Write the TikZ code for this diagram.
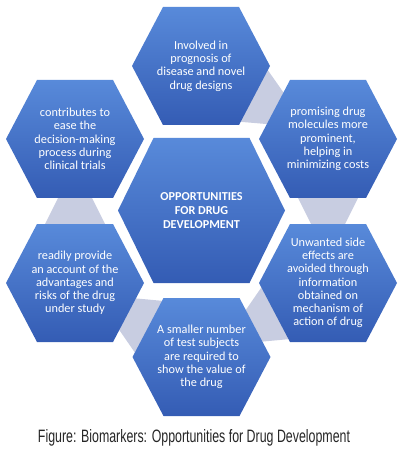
\documentclass[tikz,border=0pt]{standalone}
\usepackage{fontspec}
\usepackage{graphicx}
\setmainfont{Carlito}
\newfontfamily\captionfont{Liberation Sans}
\usetikzlibrary{calc,backgrounds}
\definecolor{hexlight}{RGB}{88,138,218}
\definecolor{hexdark}{RGB}{52,92,180}
\definecolor{ringgrey}{RGB}{200,205,225}
\tikzset{
  hexcell/.style={top color=hexlight, bottom color=hexdark},
  hextext/.style={text=white, align=center, font=\fontsize{12.3}{13.3}\selectfont},
  ringband/.style={fill=ringgrey},
}

\begin{document}
\begin{tikzpicture}[x=1bp, y=-1bp]
    \useasboundingbox (0,0) rectangle (400,450);
    \shade[hexcell] (118,210.5) -- (153.5,138) -- (249.5,138) -- (285,210.5) -- (249.5,283) -- (153.5,283) -- cycle;
    \node[hextext, font=\fontsize{12.2}{13.7}\selectfont\bfseries] (hub) at (201.5,210.5) {OPPORTUNITIES\\FOR DRUG\\DEVELOPMENT};
    \foreach \n/\cx/\cy/\txt in {top/201/66/{Involved in\\prognosis of\\disease and novel\\drug designs}, ul/75/139/{contributes to\\ease the\\decision-making\\process during\\clinical trials}, ur/328/139/{promising drug\\molecules more\\prominent,\\helping in\\minimizing costs}, ll/75/283/{readily provide\\an account of the\\advantages and\\risks of the drug\\under study}, lr/328/283/{Unwanted side\\effects are\\avoided through\\information\\obtained on\\mechanism of\\action of drug}, bot/201.5/357/{A smaller number\\of test subjects\\are required to\\show the value of\\the drug}}{
        \shade[hexcell] (\cx-69,\cy) -- (\cx-38,\cy-59) -- (\cx+38,\cy-59) -- (\cx+69,\cy) -- (\cx+38,\cy+59) -- (\cx-38,\cy+59) -- cycle;
        \node[hextext] (\n) at (\cx,\cy) {\txt};
    }
    \begin{pgfonlayer}{background}
        \foreach \s/\d in {top/ur, ur/lr, lr/bot, bot/ll, ll/ul}{
            \coordinate (ps) at ($(\s)!54bp!(\d)$);
            \coordinate (pd) at ($(\d)!54bp!(\s)$);
            \fill[ringband] ($(ps)!32.5bp!90:(\d)$) -- ($(pd)!14.5bp!-90:(\s)$) -- ($(pd)!14.5bp!90:(\s)$) -- ($(ps)!32.5bp!-90:(\d)$) -- cycle;
        }
    \end{pgfonlayer}
    \node[font=\captionfont\fontsize{18}{20}\selectfont, text=black!85] (caption) at (194,438) {\resizebox{312bp}{\height}{Figure: Biomarkers: Opportunities for Drug Development}};
\end{tikzpicture}
\end{document}
